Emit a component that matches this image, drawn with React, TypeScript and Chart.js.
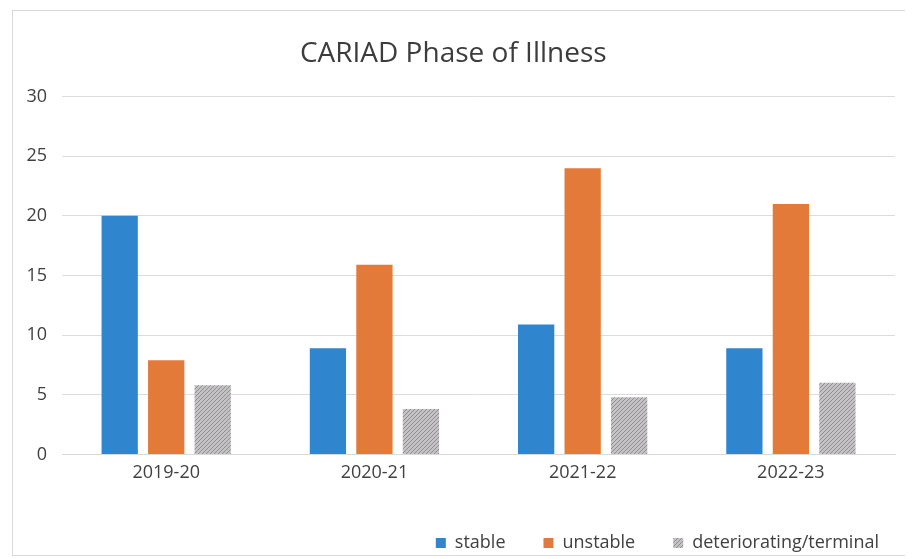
import React, { useEffect, useRef } from "react";
import { Chart, registerables } from "chart.js";

Chart.register(...registerables);

const categories = ["2019-20", "2020-21", "2021-22", "2022-23"];
const stable = [20, 8.9, 10.9, 8.9];
const unstable = [7.9, 15.9, 24, 21];
const deteriorating = [5.8, 3.8, 4.8, 6];
const seriesNames = ["stable", "unstable", "deteriorating/terminal"];
const yTicks = [0, 5, 10, 15, 20, 25, 30];

function makeHatch(): CanvasPattern | string {
  const c = document.createElement("canvas");
  c.width = 4;
  c.height = 4;
  const ctx = c.getContext("2d");
  if (!ctx) return "#aaaaaa";
  ctx.fillStyle = "#c4c2c4";
  ctx.fillRect(0, 0, 4, 4);
  ctx.strokeStyle = "#8f8d90";
  ctx.lineWidth = 1;
  ctx.beginPath();
  ctx.moveTo(0, 4);
  ctx.lineTo(4, 0);
  ctx.moveTo(-1, 1);
  ctx.lineTo(1, -1);
  ctx.moveTo(3, 5);
  ctx.lineTo(5, 3);
  ctx.stroke();
  return ctx.createPattern(c, "repeat") || "#aaaaaa";
}

const legendShift = {
  id: "legendShift",
  afterLayout(chart: any) {
    const l = chart.legend;
    if (!l) return;
    const dx = 22;
    const dy = 12;
    l.left += dx;
    l.right += dx;
    l.top += dy;
    l.bottom += dy;
  },
};

export default function App() {
  const ref = useRef<HTMLCanvasElement>(null);
  useEffect(() => {
    if (!ref.current) return;
    const font = "'Open Sans', 'Noto Sans', sans-serif";
    const chart = new Chart(ref.current, {
      type: "bar",
      data: {
        labels: categories,
        datasets: [
          { label: seriesNames[0], data: stable, backgroundColor: "#2f86cf" },
          { label: seriesNames[1], data: unstable, backgroundColor: "#e37a3a" },
          { label: seriesNames[2], data: deteriorating, backgroundColor: makeHatch() },
        ],
      },
      plugins: [legendShift],
      options: {
        animation: false,
        responsive: false,
        maintainAspectRatio: false,
        datasets: { bar: { barPercentage: 0.78, categoryPercentage: 0.67 } },
        layout: { padding: { left: -1.5, right: 14, top: 6, bottom: 5 } },
        scales: {
          x: {
            grid: { display: false },
            border: { color: "#d9d9d9" },
            ticks: { color: "#404040", font: { family: font, size: 18 }, padding: 0 },
          },
          y: {
            min: 0,
            max: 30,
            afterBuildTicks: (axis: any) => {
              axis.ticks = yTicks.map((v) => ({ value: v }));
            },
            grid: { color: "#dcdcdc", drawTicks: false },
            border: { display: false },
            ticks: { color: "#404040", font: { family: font, size: 18 }, padding: 15 },
          },
        },
        plugins: {
          title: {
            display: true,
            text: "CARIAD Phase of Illness",
            color: "#3c3c3c",
            font: { family: font, size: 28, weight: "normal" },
            padding: { top: 20, bottom: 26 },
          },
          legend: {
            position: "bottom",
            align: "end",
            labels: {
              color: "#404040",
              font: { family: font, size: 18 },
              boxWidth: 10,
              boxHeight: 10,
              padding: 38,
            },
          },
          tooltip: { enabled: false },
        },
      },
    });
    return () => chart.destroy();
  }, []);
  return (
    <div
      style={{
        marginLeft: 4,
        marginTop: 2,
        width: 896,
        height: 544,
        border: "1px solid #d9d9d9",
        background: "#fff",
      }}
    >
      <canvas ref={ref} width={896} height={544} style={{ display: "block" }} />
    </div>
  );
}
